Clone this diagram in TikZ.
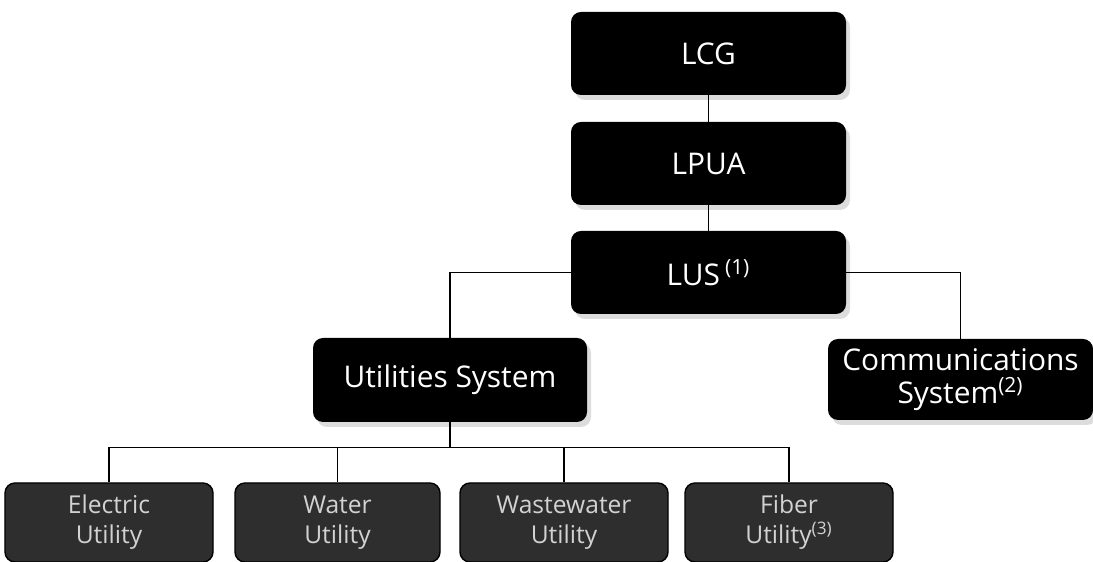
\documentclass[tikz,border=0pt]{standalone}
\usepackage{fontspec}
\setmainfont{Open Sans}
\usepackage{tikz}
\usetikzlibrary{positioning,calc,shadows}

\begin{document}
\begin{tikzpicture}[
    orgbox/.style={
        fill=black,
        rounded corners=2mm,
        text=white,
        minimum width=5.5cm,
        minimum height=1.66cm,
        align=center,
        inner sep=2pt,
        font=\fontsize{17}{19}\selectfont,
        drop shadow={shadow xshift=0.08cm, shadow yshift=-0.1cm, fill=gray!55}
    },
    unitbox/.style={
        fill=black!82,
        draw=black,
        thick,
        rounded corners=2mm,
        text=gray!35,
        minimum width=4.16cm,
        minimum height=1.58cm,
        align=center,
        inner sep=2pt,
        font=\fontsize{14}{17}\selectfont
    },
    link/.style={black, line width=0.9pt}
]
\useasboundingbox (0,0) rectangle (21.86,11.24);

% top column
\node[orgbox] (lcg) at (14.17,10.17) {LCG};
\node[orgbox] (lpua) at (14.17,7.97) {LPUA};
\node[orgbox] (lus) at (14.17,5.79) {LUS\,\textsuperscript{(1)}};

% second level
\node[orgbox, minimum width=5.48cm, minimum height=1.68cm] (util) at (9.0,3.64) {Utilities System};
\node[orgbox, minimum width=5.3cm, minimum height=1.62cm] (comm) at (19.21,3.65)
{Communications\\System\textsuperscript{(2)}};

% utilities
\node[unitbox] (elec) at (2.18,0.79) {Electric\\Utility};
\node[unitbox, minimum width=4.1cm] (water) at (6.75,0.79) {Water\\Utility};
\node[unitbox] (waste) at (11.28,0.79) {Wastewater\\Utility};
\node[unitbox] (fiber) at (15.78,0.79) {Fiber\\Utility\textsuperscript{(3)}};

\draw[link] (lcg) -- (lpua);
\draw[link] (lpua) -- (lus);
\draw[link] (lus.west) -| (util.north);
\draw[link] (lus.east) -| (comm.north);

\coordinate (bus) at ($(util.south)+(0,-0.5)$);
\draw[link] (util.south) -- (bus);
\foreach \n in {elec,water,waste,fiber}
    \draw[link] (bus) -| (\n.north);

\end{tikzpicture}
\end{document}
